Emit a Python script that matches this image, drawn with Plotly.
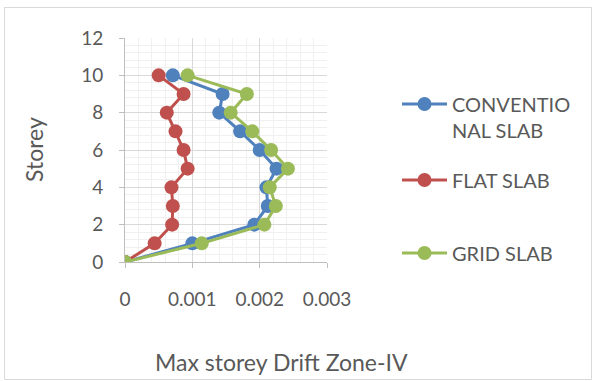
import plotly.graph_objects as go

# Storey levels and max storey drift (Zone-IV) for each slab system
storeys = [0, 1, 2, 3, 4, 5, 6, 7, 8, 9, 10]
conventional_slab = [0, 0.00100, 0.00192, 0.00212, 0.00210, 0.00225, 0.00200, 0.00171, 0.00140, 0.00145, 0.00071]
flat_slab = [0, 0.00044, 0.00070, 0.00071, 0.00069, 0.00093, 0.00087, 0.00075, 0.00062, 0.00087, 0.00050]
grid_slab = [0, 0.00114, 0.00207, 0.00224, 0.00215, 0.00242, 0.00217, 0.00189, 0.00157, 0.00181, 0.00093]

series_names = ["CONVENTIO<br>NAL SLAB", "FLAT SLAB", "GRID SLAB"]
series_values = [conventional_slab, flat_slab, grid_slab]
series_colors = ["#4f81bd", "#c0504d", "#9bbb59"]
legend_ids = ["legend", "legend2", "legend3"]

x_ticks = [0, 0.001, 0.002, 0.003]
x_tick_labels = ["0", "0.001", "0.002", "0.003"]
y_ticks = [0, 2, 4, 6, 8, 10, 12]

FONT = "Lato"
TEXT = "#595959"

W, H = 593, 381
L, R, T, B = 125, 266, 38, 119
pw, ph = W - L - R, H - T - B


def px(x):
    return (x - L) / pw


def py(y):
    return (H - B - y) / ph


fig = go.Figure()
for name, vals, col, lg in zip(series_names, series_values, series_colors, legend_ids):
    fig.add_trace(go.Scatter(
        x=vals, y=storeys, name=name, mode="lines+markers",
        line=dict(color=col, width=3),
        marker=dict(color=col, size=14),
        legend=lg, showlegend=True,
    ))

legend_common = dict(
    xanchor="left", yanchor="middle", bgcolor="rgba(0,0,0,0)",
    font=dict(family=FONT, size=20, color=TEXT), itemwidth=45,
)

fig.update_layout(
    width=W, height=H,
    showlegend=True,
    margin=dict(l=L, r=R, t=T, b=B),
    paper_bgcolor="white", plot_bgcolor="white",
    font=dict(family=FONT, color=TEXT),
    legend=dict(x=px(397), y=py(117), valign="top", **legend_common),
    legend2=dict(x=px(397), y=py(180), **legend_common),
    legend3=dict(x=px(397), y=py(253), **legend_common),
    xaxis=dict(
        range=[0, 0.003], tickvals=x_ticks, ticktext=x_tick_labels,
        showgrid=True, gridcolor="#d9d9d9", gridwidth=1,
        showline=True, linecolor="#bfbfbf", linewidth=1,
        ticks="outside", ticklen=5, tickcolor="#bfbfbf",
        tickfont=dict(family=FONT, size=19, color=TEXT),
        ticklabelstandoff=15, zeroline=False,
        minor=dict(dtick=0.0002, showgrid=True, gridcolor="#f0f0f0", ticks=""),
    ),
    yaxis=dict(
        range=[0, 12], tickvals=y_ticks,
        showgrid=True, gridcolor="#d9d9d9", gridwidth=1,
        showline=True, linecolor="#bfbfbf", linewidth=1,
        ticks="outside", ticklen=5, tickcolor="#bfbfbf",
        tickfont=dict(family=FONT, size=19, color=TEXT),
        ticklabelstandoff=12, zeroline=False,
        minor=dict(dtick=0.4, showgrid=True, gridcolor="#f0f0f0", ticks=""),
    ),
    annotations=[
        dict(text="Max storey Drift Zone-IV", xref="paper", yref="paper",
             x=px(281), y=py(362), xanchor="center", yanchor="middle",
             showarrow=False, font=dict(family=FONT, size=23, color=TEXT)),
        dict(text="Storey", xref="paper", yref="paper",
             x=px(34), y=py(150), xanchor="center", yanchor="middle",
             textangle=-90, showarrow=False,
             font=dict(family=FONT, size=23, color=TEXT)),
    ],
    shapes=[
        dict(type="rect", xref="paper", yref="paper",
             x0=px(4.5), x1=px(591.5), y0=py(379.5), y1=py(7.5),
             line=dict(color="#d9d9d9", width=1), layer="below"),
    ],
)

fig.write_html("out.html")
